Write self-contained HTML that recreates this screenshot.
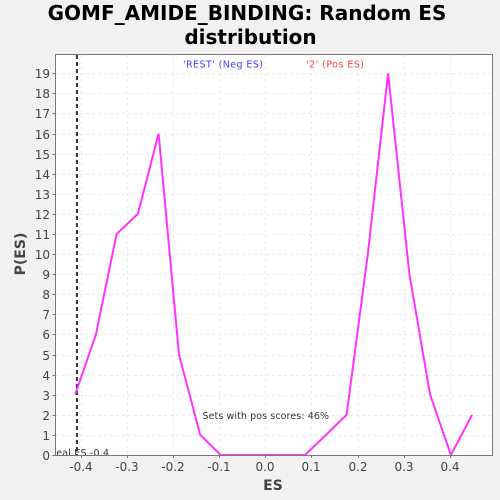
<!DOCTYPE html>
<html>
<head>
<meta charset="utf-8">
<style>
html,body{margin:0;padding:0;background:#f1f1f1;width:500px;height:500px;overflow:hidden}
svg{display:block}
text{font-family:"DejaVu Sans",sans-serif}
</style>
</head>
<body>
<svg id="chart" width="500" height="500" viewBox="0 0 500 500" xmlns="http://www.w3.org/2000/svg">
  <defs><clipPath id="plot-clip"><rect x="56" y="55" width="436" height="400"/></clipPath><clipPath id="label-clip"><rect x="56" y="55" width="436" height="402"/></clipPath></defs>
  <text x="247" y="20" text-anchor="middle" font-size="20" font-weight="bold" fill="#000">GOMF_AMIDE_BINDING: Random ES</text>
  <text x="250.500" y="44" text-anchor="middle" font-size="20" font-weight="bold" fill="#000">distribution</text>
  <rect x="55.5" y="54.5" width="437" height="401" fill="#fff"/>
  <g id="grid"></g>
  <g id="series" clip-path="url(#plot-clip)"></g>
  <g id="annotations" clip-path="url(#label-clip)">
    <text x="183" y="67.500" font-size="9.5" fill="#4040ff" textLength="80" lengthAdjust="spacing">'REST' (Neg ES)</text>
    <text x="306" y="67.500" font-size="9.5" fill="#ff4040" textLength="58" lengthAdjust="spacing">'2' (Pos ES)</text>
    <text x="202.500" y="419" font-size="9.5" fill="#333" textLength="126.500" lengthAdjust="spacing">Sets with pos scores: 46%</text>
    <text x="47" y="456" font-size="9.5" fill="#333" textLength="62" lengthAdjust="spacing">Ideal ES -0.4</text>
  </g>
  <rect x="55.5" y="54.5" width="437" height="401" fill="none" stroke="#777" stroke-width="1"/>
  <g id="axes"></g>
  <text x="273" y="490" text-anchor="middle" font-size="14" font-weight="bold" fill="#444">ES</text>
  <text transform="translate(25,254) rotate(-90)" text-anchor="middle" font-size="14" font-weight="bold" fill="#444">P(ES)</text>
</svg>
<script>
const esValues = [-0.412,-0.367,-0.322,-0.276,-0.231,-0.187,-0.141,-0.0966,-0.0505,-0.0056,0.0405,0.086,0.1315,0.176,0.222,0.266,0.312,0.357,0.402,0.448];
const probabilities = [3,6,11,12,16,5,1,0,0,0,0,0,1,2,10,19,9,3,0,2];
const xTickLabels = ["-0.4","-0.3","-0.2","-0.1","0.0","0.1","0.2","0.3","0.4"];
const yTickLabels = ["0","1","2","3","4","5","6","7","8","9","10","11","12","13","14","15","16","17","18","19"];
const idealEs = [-0.408];

const NS = "http://www.w3.org/2000/svg";
const xScale = v => 265.3 + v * 461.7;
const yScale = v => 455 - v * 20.09;
const grid = document.getElementById("grid");
const axes = document.getElementById("axes");
const series = document.getElementById("series");

function make(tag, attrs, parent) {
  const el = document.createElementNS(NS, tag);
  for (const k in attrs) el.setAttribute(k, attrs[k]);
  parent.appendChild(el);
  return el;
}

xTickLabels.forEach(label => {
  const x = Math.round(xScale(parseFloat(label))) + 0.5;
  const g = make("line", {x1:x, x2:x, y1:55, y2:455, stroke:"#ececec", "stroke-width":1, "stroke-dasharray":"3 3"}, grid);
  
  
  const t = make("line", {x1:x, x2:x, y1:455.5, y2:458, stroke:"#777"}, axes);
  
  
  const txt = make("text", {x:x - 0.5, y:471, "text-anchor":"middle", "font-size":12, fill:"#444"}, axes);
  txt.textContent = label;
  
  
});

yTickLabels.forEach(label => {
  const y = Math.round(yScale(parseFloat(label))) + 0.5;
  const g = make("line", {x1:56, x2:492, y1:y, y2:y, stroke:"#ececec", "stroke-width":1, "stroke-dasharray":"3 3"}, grid);
  
  
  const t = make("line", {x1:52.5, x2:55.5, y1:y, y2:y, stroke:"#777"}, axes);
  
  
  const txt = make("text", {x:50, y:y + 4.5, "text-anchor":"end", "font-size":12, fill:"#444"}, axes);
  txt.textContent = label;
  
  
});

const ix = xScale(idealEs[0]);
const idealLine = make("line", {x1:ix, x2:ix, y1:55, y2:455, stroke:"#333", "stroke-width":2, "stroke-dasharray":"4 3"}, series);



const pts = esValues.map((v, i) => xScale(v).toFixed(1) + "," + yScale(probabilities[i]).toFixed(1)).join(" ");
const curve = make("polyline", {points:pts, fill:"none", stroke:"#ff33ff", "stroke-width":2, "stroke-linejoin":"bevel"}, series);


</script>
</body>
</html>
